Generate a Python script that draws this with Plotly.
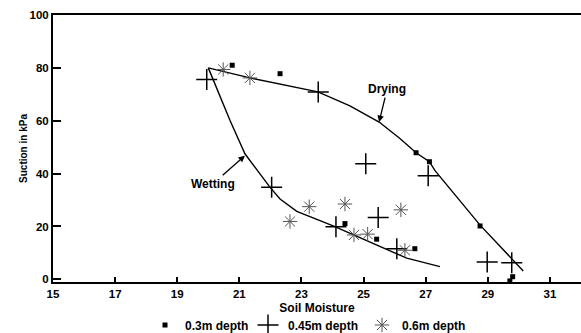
import plotly.graph_objects as go

# Drying curve
dry_x = [20.0, 21.34, 23.53, 24.56, 25.50, 26.17, 26.69, 27.12, 27.30, 28.75, 30.14]
dry_y = [80.0, 76.2, 70.9, 65.6, 59.5, 53.3, 47.9, 44.5, 41.1, 20.5, 3.2]

# Wetting curve
wet_x = [20.0, 20.7, 21.18, 21.99, 22.31, 22.85, 24.02, 25.53, 26.39, 27.46]
wet_y = [80.0, 60.1, 47.5, 34.8, 30.4, 25.7, 20.2, 12.3, 8.0, 4.8]

# 0.3 m depth
d03_x = [20.77, 22.31, 24.4, 25.42, 26.65, 26.69, 27.12, 28.75, 29.80, 29.71]
d03_y = [81.0, 77.8, 21.1, 15.2, 11.6, 47.9, 44.5, 20.2, 1.0, -0.6]

# 0.45 m depth
d045_x = [19.95, 23.54, 22.04, 24.11, 25.47, 25.07, 26.07, 27.08, 28.98, 29.77]
d045_y = [75.6, 70.9, 34.8, 19.9, 23.4, 43.7, 11.6, 39.2, 6.6, 6.3]

# 0.6 m depth
d06_x = [20.48, 21.34, 22.63, 23.25, 24.4, 24.69, 25.13, 26.2, 26.33]
d06_y = [79.4, 76.2, 21.9, 27.5, 28.5, 16.8, 17.1, 26.3, 11.0]

x_ticks = [15, 17, 19, 21, 23, 25, 27, 29, 31]
y_ticks = [0, 20, 40, 60, 80, 100]

FONT = "Liberation Sans, Arial, sans-serif"
LEG_FONT = dict(family=FONT, size=12, color="black", weight="bold")

fig = go.Figure()
fig.add_trace(go.Scatter(x=dry_x, y=dry_y, mode="lines", line=dict(color="black", width=1.4),
                         showlegend=False, hoverinfo="skip"))
fig.add_trace(go.Scatter(x=wet_x, y=wet_y, mode="lines", line=dict(color="black", width=1.4),
                         showlegend=False, hoverinfo="skip"))
fig.add_trace(go.Scatter(x=d03_x, y=d03_y, mode="markers", name="0.3m depth", cliponaxis=False,
                         legend="legend",
                         marker=dict(symbol="square", size=5, color="black")))
fig.add_trace(go.Scatter(x=d045_x, y=d045_y, mode="markers", name="0.45m depth", cliponaxis=False,
                         legend="legend2",
                         marker=dict(symbol="cross-thin", size=15, color="black",
                                     line=dict(color="black", width=1.5))))
fig.add_trace(go.Scatter(x=d06_x, y=d06_y, mode="markers", name="0.6m depth", cliponaxis=False,
                         legend="legend3",
                         marker=dict(symbol="asterisk-open", size=12, color="#555",
                                     line=dict(color="#555", width=1.0))))

fig.add_annotation(x=25.5, y=59.5, ax=8, ay=-33, text="Drying", showarrow=True,
                   arrowhead=2, arrowsize=1, arrowwidth=1.3, arrowcolor="black",
                   font=dict(family=FONT, size=12, color="black", weight="bold"))
fig.add_annotation(x=21.18, y=46.8, ax=-32, ay=28, text="Wetting", showarrow=True,
                   arrowhead=2, arrowsize=1, arrowwidth=1.3, arrowcolor="black",
                   font=dict(family=FONT, size=12, color="black", weight="bold"))

PLOT_L, PLOT_W = 53, 528


def px_to_paper(px):
    return (px - PLOT_L) / PLOT_W


def leg(px):
    return dict(orientation="h", x=px_to_paper(px), xanchor="left", y=-0.161, yanchor="middle",
                font=LEG_FONT, itemwidth=30, bgcolor="rgba(0,0,0,0)", borderwidth=0)


fig.update_layout(
    width=581, height=333,
    margin=dict(l=53, r=0, t=15, b=51, autoexpand=False),
    paper_bgcolor="white", plot_bgcolor="white",
    font=dict(family=FONT, color="black"),
    legend=leg(145), legend2=leg(248), legend3=leg(362),
    xaxis=dict(range=[15, 32], tickvals=x_ticks, ticks="inside", ticklen=5, tickwidth=1.5,
               tickcolor="black", showline=True, linecolor="black", linewidth=2, mirror=True,
               showgrid=False, zeroline=False, automargin=False,
               tickfont=dict(family=FONT, size=11.5, color="black", weight="bold"),
               title=dict(text="Soil Moisture", standoff=5,
                          font=dict(family=FONT, size=12, color="black", weight="bold"))),
    yaxis=dict(range=[-1, 100], tickvals=y_ticks, ticks="inside", ticklen=8, tickwidth=1.5,
               tickcolor="black", showline=True, linecolor="black", linewidth=2,
               showgrid=False, zeroline=False, automargin=False,
               tickfont=dict(family=FONT, size=11.5, color="black", weight="bold"),
               title=dict(text="Suction in kPa", standoff=0,
                          font=dict(family=FONT, size=10, color="black", weight="bold"))),
)
fig.write_html("out.html")
